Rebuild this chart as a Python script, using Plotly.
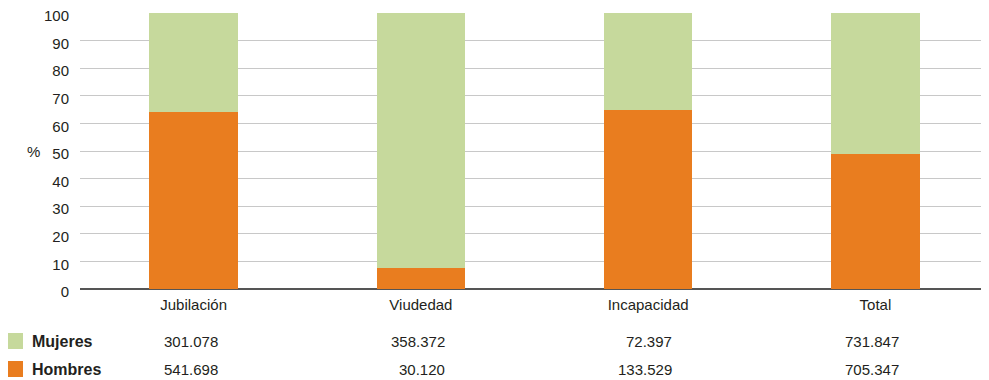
import plotly.graph_objects as go

categories = ["Jubilación", "Viudedad", "Incapacidad", "Total"]
mujeres = [301078, 358372, 72397, 731847]
hombres = [541698, 30120, 133529, 705347]
mujeres_labels = ["301.078", "358.372", "72.397", "731.847"]
hombres_labels = ["541.698", "30.120", "133.529", "705.347"]
y_ticks = [0, 10, 20, 30, 40, 50, 60, 70, 80, 90, 100]

GREEN = "#c6d99c"
ORANGE = "#e97d1f"
FONT = "Liberation Sans Narrow, Liberation Sans, Arial, sans-serif"
TXT = "#231f20"

fig = go.Figure()
fig.add_trace(go.Bar(x=categories, y=hombres, name="Hombres", marker_color=ORANGE,
                     marker_line_width=0))
fig.add_trace(go.Bar(x=categories, y=mujeres, name="Mujeres", marker_color=GREEN,
                     marker_line_width=0))

TOP = 13
BOT = 289
PW = 909.0
PH = float(BOT - TOP)

fig.update_layout(
    width=989, height=380,
    margin=dict(l=72, r=8, t=TOP - 8, b=388 - BOT, autoexpand=False),
    barmode="stack", barnorm="percent", bargap=0.61,
    plot_bgcolor="white", paper_bgcolor="white",
    showlegend=False,
    font=dict(family=FONT, size=15, color=TXT),
)
fig.update_xaxes(showgrid=False, ticks="", showline=False, ticklabelstandoff=5,
                 automargin=False, tickfont=dict(size=15, color=TXT))
fig.update_yaxes(range=[0, 100], tickvals=y_ticks, showgrid=True, gridcolor="#c8c8c8",
                 gridwidth=1, zeroline=True, zerolinecolor="#555555", zerolinewidth=2,
                 ticks="", ticklabelstandoff=10, ticklabelshift=3, ticklabeloverflow="allow",
                 automargin=False, tickfont=dict(size=15, color=TXT))

ann = []
ann.append(dict(text="%", xref="paper", yref="y", x=(33 - 80) / PW, y=50, showarrow=False,
                xanchor="center", yanchor="middle", font=dict(size=15, color=TXT)))
rows = [("Mujeres", GREEN, mujeres_labels, -(341 - BOT) / PH),
        ("Hombres", ORANGE, hombres_labels, -(369 - BOT) / PH)]
shapes = []
for name, col, labels, yp in rows:
    shapes.append(dict(type="rect", xref="paper", yref="paper",
                       x0=(7 - 80) / PW, x1=(23 - 80) / PW,
                       y0=yp - 8 / PH, y1=yp + 8 / PH, fillcolor=col, line_width=0))
    ann.append(dict(text="<b>" + name + "</b>", xref="paper", yref="paper",
                    x=(30 - 80) / PW, y=yp, showarrow=False, xanchor="left",
                    yanchor="middle", font=dict(size=16, color=TXT)))
    for c, lab in zip(categories, labels):
        ann.append(dict(text=lab, xref="x", yref="paper", x=c, y=yp, xshift=26,
                        showarrow=False, xanchor="right", yanchor="middle",
                        font=dict(size=15, color=TXT)))
fig.update_layout(annotations=ann, shapes=shapes)

fig.write_html("out.html")
